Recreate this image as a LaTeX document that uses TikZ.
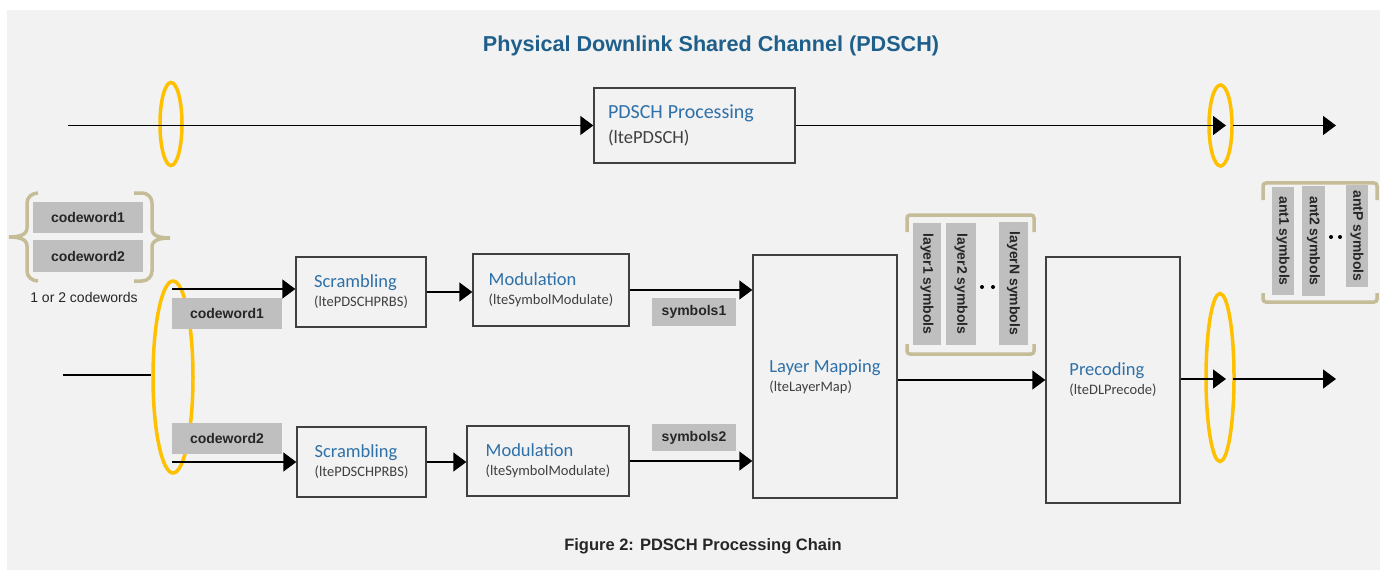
\documentclass[tikz,border=0pt]{standalone}
\usepackage{fontspec}
\setmainfont{Liberation Sans}
\newfontfamily\calibri{Carlito}
\usetikzlibrary{arrows.meta,shapes.geometric}
\definecolor{panel}{RGB}{242,242,242}
\definecolor{headblue}{RGB}{31,95,139}
\definecolor{blockblue}{RGB}{46,112,168}
\definecolor{tagfill}{RGB}{191,191,191}
\definecolor{bracecol}{RGB}{196,189,151}
\definecolor{ringcol}{RGB}{255,192,0}
\definecolor{edgecol}{RGB}{64,64,64}
\definecolor{inkcol}{RGB}{38,38,38}
\newcommand{\headfont}{\color{blockblue}\fontsize{18.5}{19}\selectfont}
\newcommand{\subfont}{\color{edgecol}\fontsize{14.5}{19}\selectfont}

\begin{document}
\begin{tikzpicture}[
  x=1pt, y=-1pt,
  block/.style={draw=edgecol, line width=1.4pt, fill=panel, align=left,
                font=\calibri\fontsize{14.5}{19}\selectfont, inner sep=0pt},
  tag/.style={fill=tagfill, inner sep=0pt, text=inkcol,
              font=\bfseries\fontsize{14}{16}\selectfont},
  column/.style={tag, rotate=-90},
  ring/.style={draw=ringcol, ellipse, line width=3.5pt, inner sep=0pt},
  brace/.style={draw=bracecol, line width=3.5pt, rounded corners=3pt},
  flow/.style={-{Triangle[length=13pt,width=19pt]}, line width=1.4pt},
  wire/.style={line width=1.4pt}
]
  \useasboundingbox (0,0) rectangle (1380,572);
  \fill[white] (0,0) rectangle (1380,572);
  \fill[panel] (7,10) rectangle (1380,570);

  \node[font=\bfseries\fontsize{21.6}{24}\selectfont, text=headblue] (title) at (711,46)
       {Physical Downlink Shared Channel (PDSCH)};
  \node[font=\bfseries\fontsize{16.5}{19}\selectfont, text=inkcol] (caption) at (703,546)
       {Figure 2: PDSCH Processing Chain};

  \node[ring, minimum width=22pt, minimum height=83pt] (ringA) at (171,124) {};
  \node[ring, minimum width=23pt, minimum height=81pt] (ringB) at (1220.5,125.5) {};
  \node[ring, minimum width=40pt, minimum height=192pt] (ringC) at (173,377) {};
  \node[ring, minimum width=28pt, minimum height=168pt] (ringD) at (1220,377.5) {};

  \node[block, minimum width=201pt, minimum height=75pt, text width=173pt] (pdsch) at (694.5,125.5)
       {{\fontsize{20}{19}\selectfont\color{blockblue}PDSCH Processing}\\[6pt]
        {\color{edgecol}\fontsize{18.5}{19}\selectfont (ltePDSCH)}};
  \node[block, minimum width=130pt, minimum height=70pt] (scr1) at (361,292)
       {{\headfont Scrambling}\\{\subfont (ltePDSCHPRBS)}};
  \node[block, minimum width=156pt, minimum height=72pt] (mod1) at (551,290)
       {{\headfont Modulation}\\{\subfont (lteSymbolModulate)}};
  \node[block, minimum width=129pt, minimum height=70pt] (scr2) at (361.5,462)
       {{\headfont Scrambling}\\{\subfont (ltePDSCHPRBS)}};
  \node[block, minimum width=162pt, minimum height=70pt] (mod2) at (548,461)
       {{\headfont Modulation}\\{\subfont (lteSymbolModulate)}};
  \node[block, minimum width=144pt, minimum height=243pt] (lm) at (825,376.5)
       {{\headfont Layer Mapping}\\{\subfont (lteLayerMap)}};
  \node[block, minimum width=134pt, minimum height=246pt] (pre) at (1113,380)
       {{\headfont Precoding}\\{\subfont (lteDLPrecode)}};

  \coordinate (topin) at (68,125.5);
  \coordinate (topmid) at (1226,125.5);
  \coordinate (topgo) at (1233,125.5);
  \coordinate (topout) at (1336,125.5);
  \coordinate (cwin) at (63,375);
  \coordinate (upstart) at (172,289);
  \coordinate (lostart) at (172,462);
  \coordinate (botmid) at (1226,379);
  \coordinate (botgo) at (1233,379);
  \coordinate (botout) at (1336,379);

  \draw[flow] (topin) -- (pdsch);
  \draw[flow] (pdsch) -- (topmid);
  \draw[flow] (topgo) -- (topout);
  \draw[wire] (cwin) -- (cwin -| ringC.west);
  \draw[flow] (upstart) -- (upstart -| scr1.west);
  \draw[flow] (lostart) -- (scr2);
  \draw[flow] (scr1) -- (scr1 -| mod1.west);
  \draw[flow] (mod1) -- (mod1 -| lm.west);
  \draw[flow] (scr2) -- (scr2 -| mod2.west);
  \draw[flow] (mod2) -- (mod2 -| lm.west);
  \draw[flow] (lm.east |- pre) -- (pre.west);
  \draw[flow] (pre.east |- botmid) -- (botmid);
  \draw[flow] (botgo) -- (botout);

  \node[tag, minimum width=110pt, minimum height=31pt] (cwA) at (88,217.5) {codeword1};
  \node[tag, minimum width=110pt, minimum height=32pt] (cwB) at (88,256) {codeword2};
  \node[font=\fontsize{14}{16}\selectfont, text=inkcol] (cwnote) at (84,297) {1 or 2 codewords};
  \node[tag, minimum width=110pt, minimum height=31pt] (cw1) at (227,313.5) {codeword1};
  \node[tag, minimum width=110pt, minimum height=31pt] (cw2) at (227,438.5) {codeword2};
  \node[tag, minimum width=84pt, minimum height=28pt] (sym1) at (694,312) {symbols1};
  \node[tag, minimum width=84pt, minimum height=27pt] (sym2) at (694,437.5) {symbols2};

  \node[column, minimum width=122pt, minimum height=28pt] (lay1) at (927,284) {layer1 symbols};
  \node[column, minimum width=122pt, minimum height=30pt] (lay2) at (961,284) {layer2 symbols};
  \node[column, minimum width=123pt, minimum height=29pt] (layN) at (1013.5,283.5) {layerN symbols};
  \fill (982,287) circle (2pt) (993,287) circle (2pt);
  \node[column, minimum width=108pt, minimum height=22pt] (ant1) at (1283,241) {ant1 symbols};
  \node[column, minimum width=110pt, minimum height=23pt] (ant2) at (1313.5,241) {ant2 symbols};
  \node[column, minimum width=102pt, minimum height=22pt] (antP) at (1357,236) {antP symbols};
  \fill (1331,237) circle (2pt) (1340,237) circle (2pt);

  \draw[brace] (907,232) -- (907,215) -- (1034,215) -- (1034,232);
  \draw[brace] (907,344) -- (907,354) -- (1034,354) -- (1034,344);
  \draw[brace] (1263,200) -- (1263,183) -- (1377,183) -- (1377,200);
  \draw[brace] (1263,293) -- (1263,302) -- (1377,302) -- (1377,293);
  \draw[draw=bracecol, line width=3.5pt]
    (38,193) to[out=180,in=90] (27,203) -- (27,228) to[out=-90,in=0] (9,237)
    to[out=0,in=90] (27,246) -- (27,271) to[out=-90,in=180] (38,281);
  \draw[draw=bracecol, line width=3.5pt]
    (134,193) -- (142,193) to[out=0,in=90] (152,203) -- (152,229) to[out=-90,in=180] (170,238)
    to[out=180,in=90] (152,247) -- (152,271) to[out=-90,in=0] (142,281) -- (134,281);
\end{tikzpicture}
\end{document}
